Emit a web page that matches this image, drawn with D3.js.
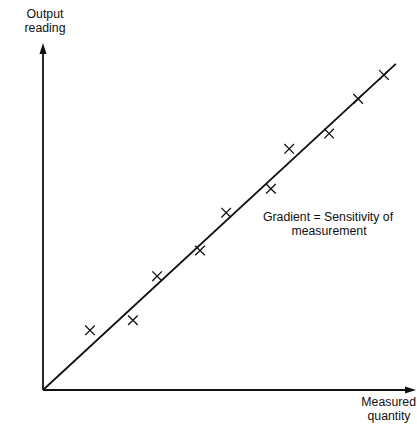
<!DOCTYPE html>
<html>
<head>
<meta charset="utf-8">
<script src="https://cdn.jsdelivr.net/npm/d3@7.9.0/dist/d3.min.js"></script>
<style>
  body { margin: 0; background: #fff; }
  svg { display: block; }
  text { font-family: "Liberation Sans", Arial, sans-serif; fill: #111; }
</style>
</head>
<body>
<svg id="chart" width="417" height="428"></svg>
<script>
// readings (arbitrary units)
const measured = [1.26, 2.41, 3.06, 4.21, 4.91, 6.11, 6.60, 7.67, 8.45, 9.14];
const output   = [1.72, 2.01, 3.28, 4.02, 5.11, 5.80, 6.95, 7.39, 8.39, 9.08];
// fitted straight line through the origin
const fitLine = [[0, 0], [9.46, 9.40]];

const svg = d3.select('#chart');
const x = d3.scaleLinear().domain([0, 10]).range([43, 416]);
const y = d3.scaleLinear().domain([0, 10]).range([390, 43]);

// axes with arrowheads
svg.append('line')
  .attr('x1', x(0)).attr('y1', y(0)).attr('x2', x(0)).attr('y2', y(10) + 8)
  .attr('stroke', '#111').attr('stroke-width', 1.8);
svg.append('line')
  .attr('x1', x(0)).attr('y1', y(0)).attr('x2', x(10) - 8).attr('y2', y(0))
  .attr('stroke', '#111').attr('stroke-width', 1.8);

svg.append('path')
  .attr('d', `M${x(0)},${y(10)} L${x(0) - 3.5},${y(10) + 11} L${x(0) + 3.5},${y(10) + 11} Z`)
  .attr('fill', '#111');
svg.append('path')
  .attr('d', `M${x(10)},${y(0)} L${x(10) - 11},${y(0) - 3.5} L${x(10) - 11},${y(0) + 3.5} Z`)
  .attr('fill', '#111');

// fitted line
svg.append('path')
  .datum(fitLine)
  .attr('d', d3.line().x(d => x(d[0])).y(d => y(d[1])))
  .attr('fill', 'none')
  .attr('stroke', '#111')
  .attr('stroke-width', 1.8);

// crosses
const pts = measured.map((m, i) => [m, output[i]]);
svg.selectAll('path.pt')
  .data(pts)
  .join('path')
  .attr('class', 'pt')
  .attr('d', d => {
    const cx = x(d[0]), cy = y(d[1]), r = 4.8;
    return `M${cx - r},${cy - r}L${cx + r},${cy + r}M${cx - r},${cy + r}L${cx + r},${cy - r}`;
  })
  .attr('stroke', '#111')
  .attr('stroke-width', 1.3)
  .attr('fill', 'none');

// labels
const lab = (t, px, py, anchor = 'middle') => svg.append('text')
  .attr('x', px).attr('y', py)
  .attr('text-anchor', anchor)
  .attr('font-size', 12.3)
  .text(t);

lab('Output', 45, 18);
lab('reading', 45, 32);
lab('Measured', 416, 406, 'end');
lab('quantity', 389, 420);
lab('Gradient = Sensitivity of', 328, 221);
lab('measurement', 329, 235);
</script>
</body>
</html>
